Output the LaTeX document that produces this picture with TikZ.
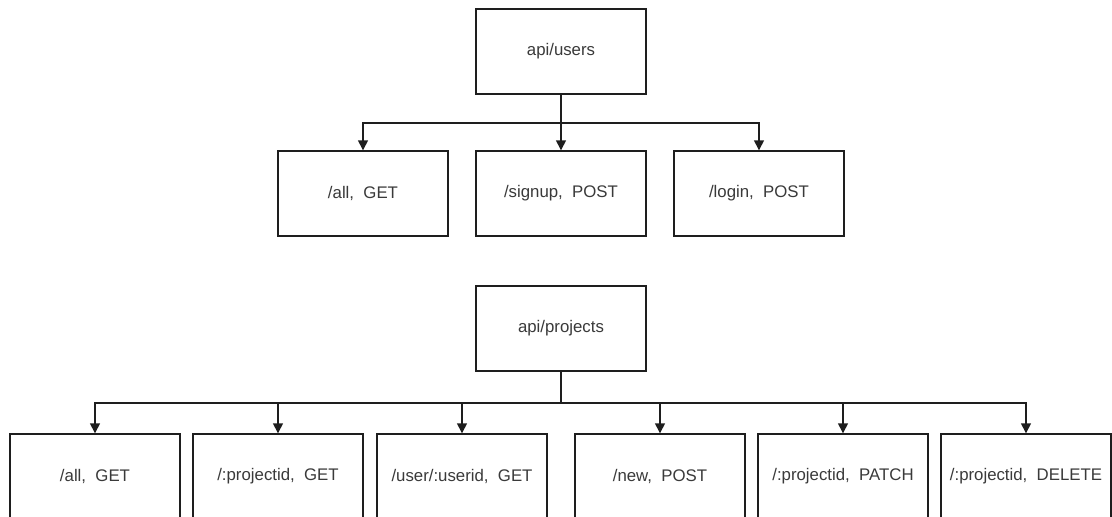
\documentclass[tikz,border=0pt]{standalone}
\usepackage{fontspec}
\setmainfont{Liberation Sans}
\usetikzlibrary{arrows.meta}
\definecolor{txt}{HTML}{3A3A3A}
\definecolor{ln}{HTML}{1E1E1E}
\begin{document}
\begin{tikzpicture}[x=1pt,y=-1pt,
  box/.style={draw=ln,line width=1.4pt,minimum width=170pt,minimum height=85pt,inner sep=0pt,
    font=\fontsize{16.8}{19}\selectfont,text=txt,fill=white},
  conn/.style={draw=ln,line width=1.4pt},
  arr/.style={conn,-{Triangle[width=10pt,length=10pt]}}]
\useasboundingbox (0,0) rectangle (1112,517);
\begin{scope}
\clip (0,0) rectangle (1112,517);
% top tree
\node[box] (users) at (561,51.5) {api/users};
\node[box] (uall) at (363,193.5) {/all,~~GET};
\node[box] (usignup) at (561,193.5) {/signup,~~POST};
\node[box] (ulogin) at (759,193.5) {/login,~~POST};
\coordinate (ubus) at (561,123);
\draw[conn] (users.south) -- (ubus);
\draw[arr] (ubus) -| (uall.north);
\draw[arr] (ubus) -- (usignup.north);
\draw[arr] (ubus) -| (ulogin.north);
% bottom tree
\node[box] (proj) at (561,328.5) {api/projects};
\node[box] (pall) at (95,476.5) {/all,~~GET};
\node[box] (pget) at (278,476.5) {/:projectid,~~GET};
\node[box] (puser) at (462,476.5) {/user/:userid,~~GET};
\node[box] (pnew) at (660,476.5) {/new,~~POST};
\node[box] (ppatch) at (843,476.5) {/:projectid,~~PATCH};
\node[box] (pdel) at (1026,476.5) {/:projectid,~~DELETE};
\coordinate (pbus) at (561,403);
\draw[conn] (proj.south) -- (pbus);
\foreach \t in {pall,pget,puser,pnew,ppatch,pdel}
  \draw[arr] (pbus) -| (\t.north);
\end{scope}
\end{tikzpicture}
\end{document}
